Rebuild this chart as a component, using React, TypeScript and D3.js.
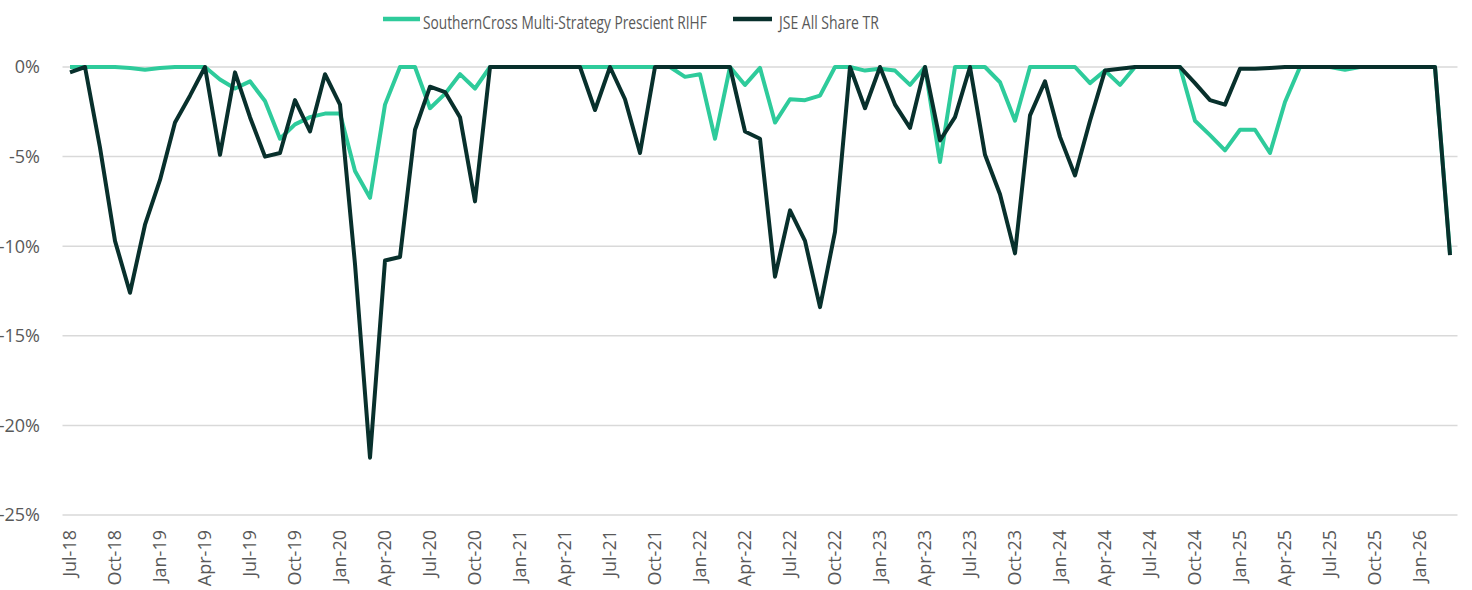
import { useEffect, useRef } from "react";
import * as d3 from "d3";

// monthly drawdowns (%) Jul-18 .. Mar-26
const months = [
  "Jul-18", "Aug-18", "Sep-18", "Oct-18", "Nov-18", "Dec-18",
  "Jan-19", "Feb-19", "Mar-19", "Apr-19", "May-19", "Jun-19", "Jul-19", "Aug-19", "Sep-19", "Oct-19", "Nov-19", "Dec-19",
  "Jan-20", "Feb-20", "Mar-20", "Apr-20", "May-20", "Jun-20", "Jul-20", "Aug-20", "Sep-20", "Oct-20", "Nov-20", "Dec-20",
  "Jan-21", "Feb-21", "Mar-21", "Apr-21", "May-21", "Jun-21", "Jul-21", "Aug-21", "Sep-21", "Oct-21", "Nov-21", "Dec-21",
  "Jan-22", "Feb-22", "Mar-22", "Apr-22", "May-22", "Jun-22", "Jul-22", "Aug-22", "Sep-22", "Oct-22", "Nov-22", "Dec-22",
  "Jan-23", "Feb-23", "Mar-23", "Apr-23", "May-23", "Jun-23", "Jul-23", "Aug-23", "Sep-23", "Oct-23", "Nov-23", "Dec-23",
  "Jan-24", "Feb-24", "Mar-24", "Apr-24", "May-24", "Jun-24", "Jul-24", "Aug-24", "Sep-24", "Oct-24", "Nov-24", "Dec-24",
  "Jan-25", "Feb-25", "Mar-25", "Apr-25", "May-25", "Jun-25", "Jul-25", "Aug-25", "Sep-25", "Oct-25", "Nov-25", "Dec-25",
  "Jan-26", "Feb-26", "Mar-26",
];

const southernCross = [
  0, 0, 0, 0, -0.05, -0.15,
  -0.05, 0, 0, 0, -0.7, -1.2, -0.8, -1.9, -4.0, -3.2, -2.8, -2.6,
  -2.6, -5.8, -7.3, -2.1, 0, 0, -2.3, -1.5, -0.4, -1.2, 0, 0,
  0, 0, 0, 0, 0, 0, 0, 0, 0, 0, 0, -0.55,
  -0.4, -4.0, 0, -1.0, -0.05, -3.1, -1.8, -1.85, -1.6, 0, 0, -0.2,
  -0.1, -0.2, -1.0, 0, -5.3, 0, 0, 0, -0.85, -3.0, 0, 0,
  0, 0, -0.9, -0.2, -1.0, 0, 0, 0, 0, -3.0, -3.8, -4.65,
  -3.5, -3.5, -4.8, -1.95, 0, 0, 0, -0.15, 0, 0, 0, 0,
  0, 0, -10.4,
];

const jseAllShare = [
  -0.3, 0, -4.5, -9.7, -12.6, -8.8,
  -6.3, -3.1, -1.6, 0, -4.9, -0.3, -2.8, -5.0, -4.8, -1.85, -3.6, -0.4,
  -2.1, -11.0, -21.8, -10.8, -10.6, -3.5, -1.1, -1.4, -2.8, -7.5, 0, 0,
  0, 0, 0, 0, 0, -2.4, 0, -1.8, -4.8, 0, 0, 0,
  0, 0, 0, -3.6, -4.0, -11.7, -8.0, -9.7, -13.4, -9.2, 0, -2.3,
  0, -2.1, -3.4, 0, -4.1, -2.8, 0, -4.9, -7.1, -10.4, -2.7, -0.8,
  -3.9, -6.05, -3.0, -0.2, -0.1, 0, 0, 0, 0, -0.9, -1.85, -2.1,
  -0.1, -0.1, -0.05, 0, 0, 0, 0, 0, 0, 0, 0, 0,
  0, 0, -10.5,
];

const yTicks = [0, -5, -10, -15, -20, -25];
const xTickLabels = months.filter((_, i) => i % 3 === 0);

const seriesNames = ["SouthernCross Multi-Strategy Prescient RIHF", "JSE All Share TR"];
const seriesColors = ["#2ecb9b", "#08302c"];

export default function App() {
  const ref = useRef<SVGSVGElement>(null);

  useEffect(() => {
    const width = 1472, height = 590;
    const svg = d3.select(ref.current).attr("width", width).attr("height", height);
    svg.selectAll("*").remove();

    const font = "'Open Sans', sans-serif";
    const x = d3.scalePoint<string>().domain(months).range([70, 1450]);
    const y = d3.scaleLinear().domain([-25, 0]).range([515, 67]);
    const half = x.step() / 2;

    // gridlines
    svg.append("g")
      .selectAll("line")
      .data(yTicks)
      .enter()
      .append("line")
      .attr("x1", 70 - half)
      .attr("x2", 1450 + half)
      .attr("y1", d => y(d))
      .attr("y2", d => y(d))
      .attr("stroke", "#d9d9d9")
      .attr("stroke-width", 1.5);

    // y labels
    svg.append("g")
      .selectAll("text")
      .data(yTicks)
      .enter()
      .append("text")
      .attr("x", 40)
      .attr("y", d => y(d))
      .attr("dy", "0.35em")
      .attr("text-anchor", "end")
      .attr("font-family", font)
      .attr("font-size", 18)
      .attr("fill", "#595959")
      .text(d => d + "%");

    // x labels (every quarter), rotated
    svg.append("g")
      .selectAll("text")
      .data(xTickLabels)
      .enter()
      .append("text")
      .attr("transform", d => `translate(${x(d)},530) rotate(-90)`)
      .attr("dy", "0.35em")
      .attr("text-anchor", "end")
      .attr("font-family", font)
      .attr("font-size", 18)
      .attr("fill", "#595959")
      .text(d => d);

    const line = d3.line<number>()
      .x((_, i) => x(months[i]) as number)
      .y(d => y(d));

    [southernCross, jseAllShare].forEach((vals, k) => {
      svg.append("path")
        .datum(vals)
        .attr("d", line)
        .attr("fill", "none")
        .attr("stroke", seriesColors[k])
        .attr("stroke-width", 4)
        .attr("stroke-linejoin", "round");
    });

    // legend (text squeezed horizontally like the narrow original font)
    const legendItems = [
      {x0: 383, x1: 420, tx: 423, len: 284},
      {x0: 733, x1: 772, tx: 779, len: 100},
    ];
    const lg = svg.append("g");
    legendItems.forEach((it, k) => {
      lg.append("line")
        .attr("x1", it.x0).attr("x2", it.x1)
        .attr("y1", 19).attr("y2", 19)
        .attr("stroke", seriesColors[k])
        .attr("stroke-width", 4.5);
      const t = lg.append("text")
        .attr("font-family", font)
        .attr("font-size", 19)
        .attr("fill", "#595959")
        .text(seriesNames[k]);
      const natural = (t.node() as SVGTextElement).getComputedTextLength() || it.len;
      t.attr("transform", `translate(${it.tx},28.5) scale(${it.len / natural},1)`);
    });
  }, []);

  return <svg ref={ref} style={{position: "absolute", left: 0, top: 0}}></svg>;
}
